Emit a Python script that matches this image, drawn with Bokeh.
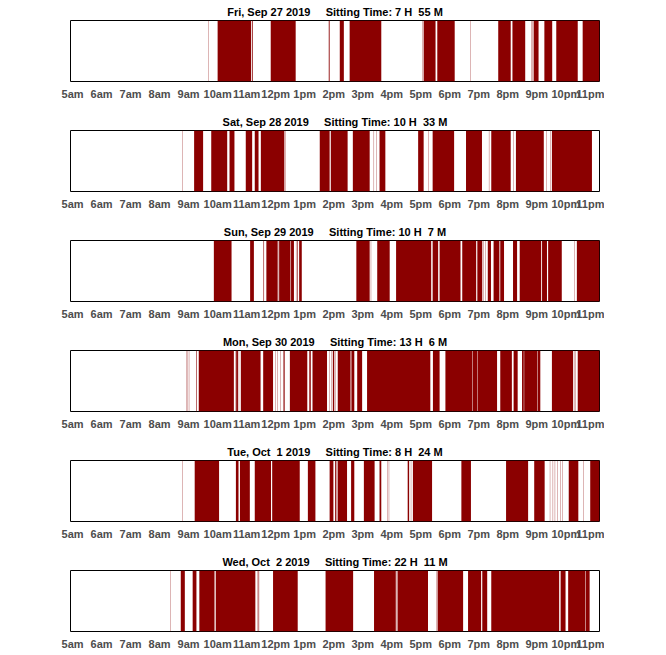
from bokeh.plotting import figure
from bokeh.layouts import column
from bokeh.models import FixedTicker, Range1d, Spacer
from bokeh.embed import file_html
from bokeh.resources import INLINE

# ---- data (decimal hours of the day) ----
hour_ticks = list(range(5, 24))
hour_labels = ["5am", "6am", "7am", "8am", "9am", "10am", "11am", "12pm", "1pm", "2pm",
               "3pm", "4pm", "5pm", "6pm", "7pm", "8pm", "9pm", "10pm", "11pm"]

day_labels = ["Fri, Sep 27 2019", "Sat, Sep 28 2019", "Sun, Sep 29 2019",
              "Mon, Sep 30 2019", "Tue, Oct  1 2019", "Wed, Oct  2 2019"]
sit_hours = [7, 10, 10, 13, 8, 22]
sit_minutes = [55, 33, 7, 6, 24, 11]

fri_start = [9.69, 10.00, 11.18, 11.83, 13.83, 14.21, 14.55, 17.06, 17.10, 17.57, 18.71,
             19.67, 20.16, 20.81, 20.85, 20.89, 21.26, 21.67, 22.58]
fri_end = [9.70, 11.15, 11.21, 12.69, 13.86, 14.35, 15.64, 17.07, 17.51, 18.17, 18.72,
           20.10, 20.60, 20.82, 20.86, 21.06, 21.53, 22.41, 23.16]

sat_start = [8.795, 9.19, 9.78, 10.41, 10.97, 11.28, 11.49, 12.33, 13.52, 13.90, 14.66,
             15.38, 15.46, 15.58, 16.91, 17.27, 17.41, 18.56, 19.35, 19.43, 20.18, 20.28,
             21.33, 21.47, 21.52]
sat_end = [8.805, 9.50, 10.33, 10.58, 11.19, 11.41, 12.30, 12.34, 13.86, 14.48, 15.24,
           15.39, 15.47, 15.78, 17.10, 17.28, 18.15, 19.11, 19.36, 20.10, 20.19, 21.24,
           21.34, 21.48, 22.90]

sun_start = [9.87, 11.12, 11.58, 11.68, 12.09, 12.12, 12.53, 12.70, 12.74, 12.81, 14.78,
             15.28, 15.50, 16.15, 17.41, 17.65, 18.43, 18.95, 19.16, 19.22, 19.31, 19.51,
             19.74, 20.18, 20.41, 21.18, 21.39, 22.29, 22.38]
sun_end = [10.48, 11.25, 11.60, 12.07, 12.10, 12.51, 12.63, 12.71, 12.76, 12.90, 15.24,
           15.29, 15.93, 17.36, 17.60, 18.37, 18.91, 19.12, 19.17, 19.23, 19.42, 19.71,
           19.87, 20.32, 21.15, 21.35, 21.86, 22.30, 23.16]

mon_start = [8.93, 8.97, 9.01, 9.26, 9.35, 10.60, 10.64, 10.73, 10.80, 11.57, 11.98,
             12.05, 12.15, 12.27, 12.49, 13.16, 13.27, 13.85, 13.92, 13.97, 14.05, 14.14,
             14.61, 14.81, 15.15, 17.42, 17.85, 18.785, 18.955, 19.74, 20.20, 20.49, 20.565,
             21.025, 21.52, 22.28, 22.33, 22.41]
mon_end = [8.94, 8.98, 9.02, 9.28, 10.56, 10.61, 10.70, 10.74, 11.48, 11.91, 11.99,
           12.06, 12.16, 12.31, 13.09, 13.21, 13.77, 13.86, 13.93, 14.02, 14.06, 14.58,
           14.71, 14.98, 17.33, 17.65, 18.77, 18.94, 19.63, 20.14, 20.34, 20.55, 21.01,
           21.12, 22.25, 22.29, 22.34, 23.16]

tue_start = [8.795, 9.21, 10.63, 10.77, 11.28, 11.88, 13.11, 13.86, 14.05, 14.11, 14.14,
             14.60, 15.04, 15.58, 15.85, 15.90, 16.55, 16.66, 16.73, 18.40, 19.94, 20.91,
             21.45, 21.55, 21.62, 21.70, 21.80, 21.88, 22.10, 22.61, 22.84]
tue_end = [8.805, 10.05, 10.72, 11.11, 11.84, 12.83, 13.37, 13.99, 14.09, 14.12, 14.46,
           14.71, 15.41, 15.64, 15.86, 15.91, 16.60, 16.67, 17.39, 18.73, 20.70, 21.27,
           21.46, 21.56, 21.63, 21.71, 21.81, 21.89, 22.43, 22.62, 23.16]

wed_start = [8.375, 8.73, 9.14, 9.37, 9.905, 9.94, 11.37, 11.41, 11.91, 13.72, 15.39,
             16.17, 16.20, 17.54, 17.58, 18.63, 19.12, 19.43, 21.82, 22.08, 22.685]
wed_end = [8.385, 8.87, 9.27, 9.89, 9.915, 11.30, 11.38, 11.43, 12.76, 14.67, 16.14,
           16.18, 17.25, 17.55, 18.46, 19.08, 19.29, 21.77, 21.99, 22.67, 22.82]

starts = [fri_start, sat_start, sun_start, mon_start, tue_start, wed_start]
ends = [fri_end, sat_end, sun_end, mon_end, tue_end, wed_end]

FONT = "Liberation Sans"
BAR = "#8B0000"
NB = "\u00a0"


def keep_spaces(s):
    # repeated spaces would collapse in SVG text; keep them as no-break spaces
    return s.replace("  ", " " + NB)


figs = [Spacer(height=1, width=10)]
n = len(day_labels)
for i in range(n):
    last = (i == n - 1)
    title = (keep_spaces(day_labels[i]) + " " + NB * 4 +
             f"Sitting Time: {sit_hours[i]} H{NB} {sit_minutes[i]} M")
    p = figure(frame_width=529, frame_height=61,
               x_range=Range1d(4.93, 23.16), y_range=Range1d(0, 1),
               output_backend="svg", toolbar_location=None,
               min_border_left=70, min_border_right=5, min_border_top=0,
               min_border_bottom=16 if last else 30,
               title=title)
    p.quad(left=starts[i], right=ends[i], bottom=0, top=1,
           fill_color=BAR, line_color=None)
    p.title.text_font = FONT
    p.title.text_font_style = "bold"
    p.title.text_font_size = "11px"
    p.title.text_color = "black"
    p.title.align = "center"
    p.title.standoff = 5
    p.title.offset = 0
    p.yaxis.visible = False
    p.xgrid.visible = False
    p.ygrid.visible = False
    p.outline_line_color = "black"
    p.outline_line_width = 1
    ax = p.xaxis[0]
    ax.ticker = FixedTicker(ticks=hour_ticks)
    ax.major_label_overrides = {t: lab for t, lab in zip(hour_ticks, hour_labels)}
    ax.axis_line_color = None
    ax.major_tick_line_color = None
    ax.minor_tick_line_color = None
    ax.major_tick_out = 0
    ax.major_label_standoff = 6
    ax.major_label_text_font = FONT
    ax.major_label_text_font_style = "bold"
    ax.major_label_text_font_size = "11px"
    ax.major_label_text_color = "#4D4D4D"
    figs.append(p)

layout = column(*figs, spacing=0)
open("out.html", "w").write(file_html(layout, INLINE))
